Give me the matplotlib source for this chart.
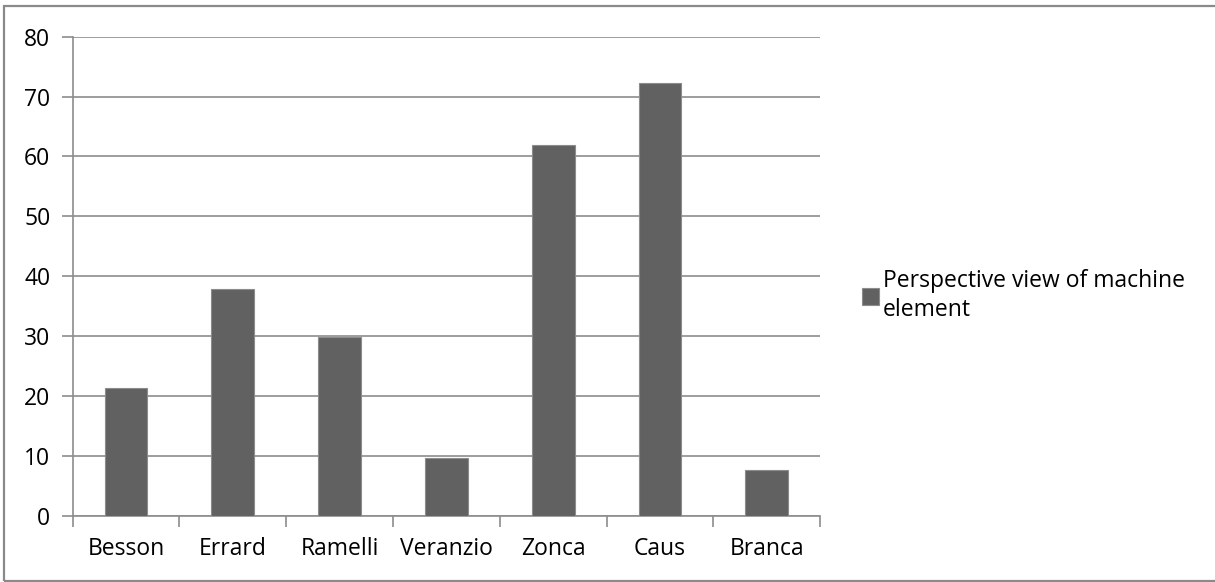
import numpy as np
import matplotlib
matplotlib.use("Agg")
import matplotlib.pyplot as plt
from matplotlib.patches import Rectangle

categories = ['Besson', 'Errard', 'Ramelli', 'Veranzio', 'Zonca', 'Caus', 'Branca']
values = [21.4, 37.9, 29.8, 9.6, 61.9, 72.3, 7.6]
series_name = 'Perspective view of machine\nelement'

plt.rcParams['font.family'] = ['Open Sans', 'DejaVu Sans']

fig = plt.figure(figsize=(12.15, 5.82), dpi=100)
ax = fig.add_axes([0.0598, 0.1139, 0.675 - 0.0598, 0.937 - 0.1139])

# outer chart frame (open on the right like the source image)
fig.patches.append(Rectangle((4 / 1215, 1 / 582), 1.2, 575 / 582, transform=fig.transFigure,
                             fill=False, edgecolor='#8a8a8a', linewidth=1.6, zorder=0))

x = np.arange(len(categories))
ax.bar(x, values, width=0.4, color='#616161', edgecolor='#8c8c8c', linewidth=0.8,
       zorder=3, label=series_name)

ax.set_xlim(-0.5, len(categories) - 0.5)
ax.set_ylim(0, 80)
ax.set_yticks(np.arange(0, 81, 10))
ax.yaxis.grid(True, color='#8c8c8c', linewidth=1.2, zorder=0)

ax.set_xticks(x)
ax.set_xticklabels(categories, fontsize=16.5)
ax.set_xticks(np.arange(-0.5, len(categories), 1), minor=True)
ax.tick_params(axis='x', which='major', length=0, pad=15)
ax.tick_params(axis='x', which='minor', length=8, color='#8c8c8c', width=1.2)
ax.tick_params(axis='y', length=8, color='#8c8c8c', width=1.2, labelsize=16.5, pad=8)

for side in ['top', 'right']:
    ax.spines[side].set_visible(False)
for side in ['left', 'bottom']:
    ax.spines[side].set_color('#8c8c8c')
    ax.spines[side].set_linewidth(1.2)

leg = ax.legend(loc='center left', bbox_to_anchor=(1.056, 0.46), frameon=False,
                borderpad=0, borderaxespad=0,
                fontsize=16.5, handlelength=0.75, handleheight=0.75, handletextpad=0.15,
                alignment='left')
for t in leg.get_texts():
    t.set_linespacing(1.25)

fig.savefig('out.png', dpi=100)
